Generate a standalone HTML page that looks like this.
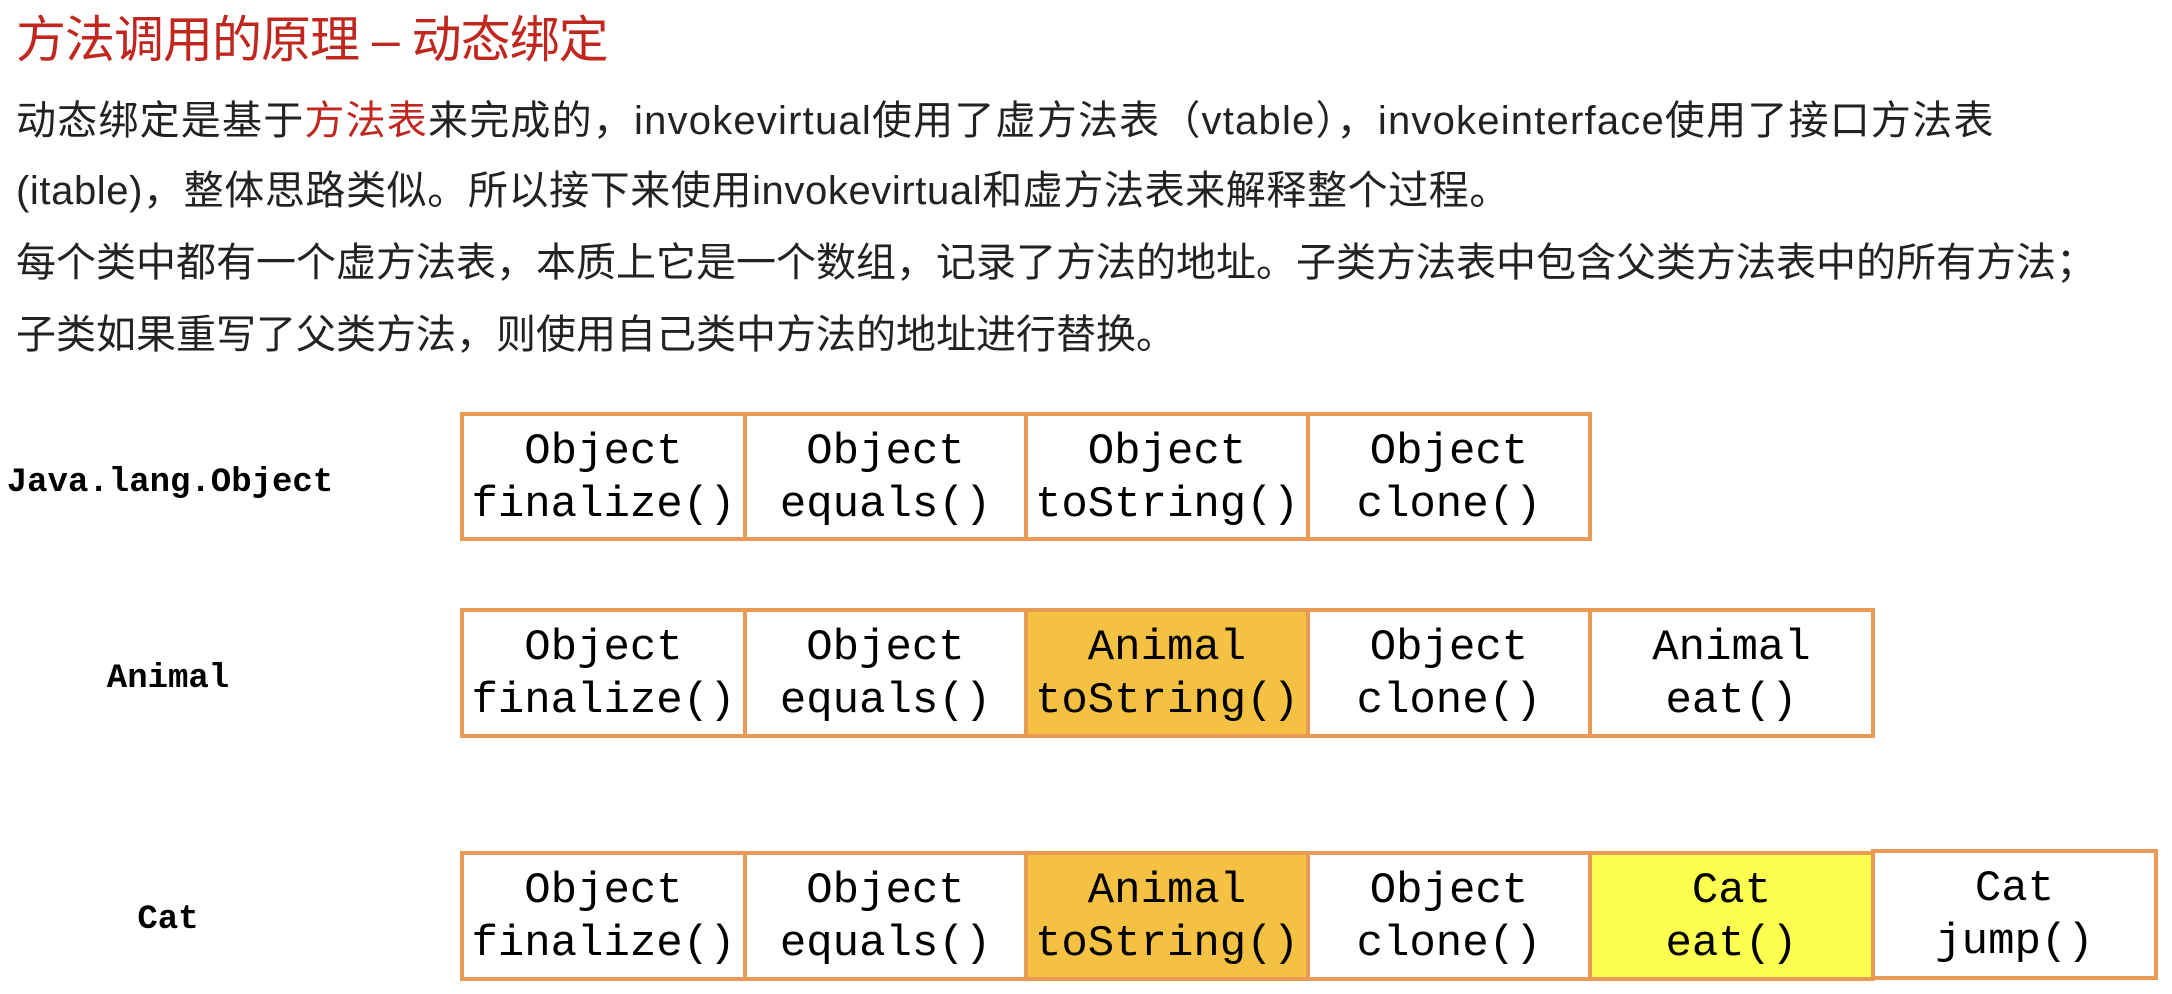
<!DOCTYPE html>
<html><head><meta charset="utf-8"><style>
body{margin:0;width:2172px;height:994px;background:#fff;position:relative;overflow:hidden;font-family:"Liberation Sans","Noto Sans CJK SC",sans-serif}
.t{position:absolute;left:16px;top:0px;font-size:50px;color:#c0281f;white-space:nowrap;letter-spacing:-1px}
.p{position:absolute;left:16px;font-size:40px;color:#222;white-space:nowrap;line-height:1}
.l1{letter-spacing:1.2px}
.l2{letter-spacing:0.6px}
.r{color:#c0281f}
.box{position:absolute;box-sizing:border-box;border:4px solid #e99a55;background:#fff;font-family:"Liberation Mono","DejaVu Sans Mono",monospace;font-size:44px;line-height:53px;text-align:center;padding-top:10px;color:#000}
.o{background:#f4c142}.y{background:#fefe50}
.lbl{position:absolute;font-family:"Liberation Mono",monospace;font-weight:bold;font-size:34px;transform:translate(-50%,-50%);white-space:nowrap}
</style></head><body>
<div class="t">方法调用的原理 – 动态绑定</div>
<div class="p l1" style="top:101px">动态绑定是基于<span class="r">方法表</span>来完成的，invokevirtual使用了虚方法表（vtable），invokeinterface使用了接口方法表</div>
<div class="p l2" style="top:171px">(itable)，整体思路类似。所以接下来使用invokevirtual和虚方法表来解释整个过程。</div>
<div class="p" style="top:243px">每个类中都有一个虚方法表，本质上它是一个数组，记录了方法的地址。子类方法表中包含父类方法表中的所有方法；</div>
<div class="p" style="top:315px">子类如果重写了父类方法，则使用自己类中方法的地址进行替换。</div>

<div class="lbl" style="left:170px;top:483px">Java.lang.Object</div>
<div class="lbl" style="left:168px;top:679px">Animal</div>
<div class="lbl" style="left:168px;top:920px">Cat</div>

<div class="box" style="left:460px;top:412px;width:287px;height:129px">Object<br>finalize()</div>
<div class="box" style="left:743px;top:412px;width:285px;height:129px">Object<br>equals()</div>
<div class="box" style="left:1024px;top:412px;width:286px;height:129px">Object<br>toString()</div>
<div class="box" style="left:1306px;top:412px;width:286px;height:129px">Object<br>clone()</div>

<div class="box" style="left:460px;top:608px;width:287px;height:130px">Object<br>finalize()</div>
<div class="box" style="left:743px;top:608px;width:285px;height:130px">Object<br>equals()</div>
<div class="box o" style="left:1024px;top:608px;width:286px;height:130px">Animal<br>toString()</div>
<div class="box" style="left:1306px;top:608px;width:286px;height:130px">Object<br>clone()</div>
<div class="box" style="left:1588px;top:608px;width:287px;height:130px">Animal<br>eat()</div>

<div class="box" style="left:460px;top:851px;width:287px;height:130px">Object<br>finalize()</div>
<div class="box" style="left:743px;top:851px;width:285px;height:130px">Object<br>equals()</div>
<div class="box o" style="left:1024px;top:851px;width:286px;height:130px">Animal<br>toString()</div>
<div class="box" style="left:1306px;top:851px;width:286px;height:130px">Object<br>clone()</div>
<div class="box y" style="left:1588px;top:851px;width:287px;height:130px">Cat<br>eat()</div>
<div class="box" style="left:1871px;top:849px;width:287px;height:131px">Cat<br>jump()</div>
</body></html>
